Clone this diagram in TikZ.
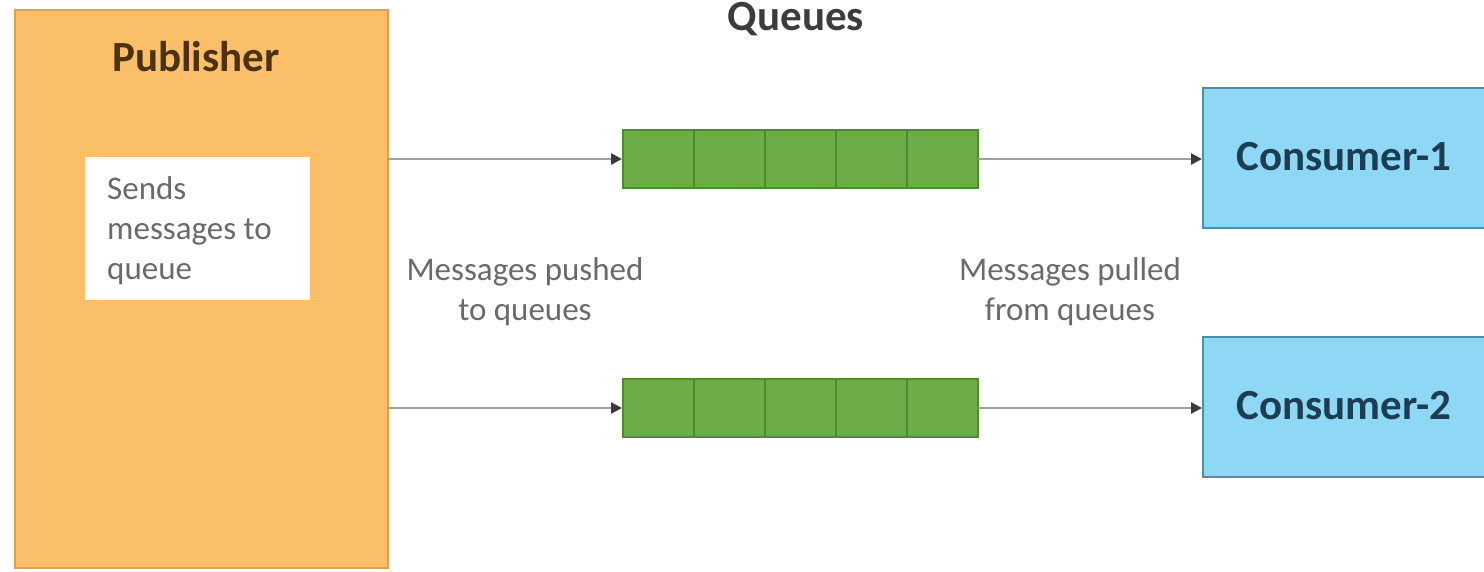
\documentclass[tikz,border=0pt]{standalone}
\usepackage{fontspec}
\setmainfont{Carlito}
\usetikzlibrary{arrows.meta}

\definecolor{pubfill}{HTML}{FBBF69}
\definecolor{pubdraw}{HTML}{DDA04E}
\definecolor{pubtext}{HTML}{4A3212}
\definecolor{qfill}{HTML}{6DAD47}
\definecolor{qdraw}{HTML}{4F8A32}
\definecolor{confill}{HTML}{8FD8F5}
\definecolor{condraw}{HTML}{4F8EAA}
\definecolor{context}{HTML}{1C3D52}
\definecolor{wire}{HTML}{A0A0A0}
\definecolor{tip}{HTML}{3A3A3A}
\definecolor{note}{HTML}{6A6A6A}
\definecolor{head}{HTML}{3C3C3C}

\tikzset{
  big/.style={font=\fontsize{43}{52}\selectfont\bfseries},
  small/.style={font=\fontsize{33}{40}\selectfont},
  publisherbox/.style={fill=pubfill, draw=pubdraw, line width=1.5pt},
  cell/.style={fill=qfill, draw=qdraw, line width=1.5pt, minimum width=71pt, minimum height=58pt, inner sep=0pt, outer sep=0pt},
  consumerline/.style={draw=condraw, line width=1.5pt},
  link/.style={draw=wire, line width=2.5pt, -{Triangle[length=11pt,width=11pt,color=tip]}, shorten >=1pt},
}

\begin{document}
\begin{tikzpicture}[x=1pt, y=-1pt]
  \useasboundingbox (0,0) rectangle (1484,572);
  \fill[white] (0,0) rectangle (1484,572);

  % publisher
  \draw[publisherbox] (15,10) rectangle (388,568);
  \coordinate (pubtop) at (388,159);
  \coordinate (pubbot) at (388,408);
  \node[big, text=pubtext] (pubtitle) at (196,57) {Publisher};
  \fill[white] (85,157) rectangle (310,300);
  \node[small, text=note, anchor=north west, align=left, inner sep=0pt] (pubnote) at (107,176)
    {Sends\\messages to\\queue};

  % queues
  \node[big, text=head] (qtitle) at (796,19) {Queues};
  \foreach \i in {0,...,4} {
    \node[cell] (qa\i) at (658.5+71*\i,159) {};
    \node[cell] (qb\i) at (658.5+71*\i,408) {};
  }

  % consumers (cut by the right edge of the page)
  \fill[confill] (1204,89) rectangle (1484,227);
  \draw[consumerline] (1484,88) -- (1203,88) -- (1203,228) -- (1484,228);
  \coordinate (cona) at (1203,159);
  \node[big, text=context] (conatext) at (1344,157) {Consumer-1};

  \fill[confill] (1204,338) rectangle (1484,476);
  \draw[consumerline] (1484,337) -- (1203,337) -- (1203,477) -- (1484,477);
  \coordinate (conb) at (1203,408);
  \node[big, text=context] (conbtext) at (1344,406) {Consumer-2};

  % connectors
  \draw[link] (pubtop) -- (qa0.west);
  \draw[link] (pubbot) -- (qb0.west);
  \draw[link] (qa4.east) -- (cona);
  \draw[link] (qb4.east) -- (conb);

  % labels
  \node[small, text=note, align=center] (pushlbl) at (525,292) {Messages pushed\\to queues};
  \node[small, text=note, align=center] (pulllbl) at (1070,292) {Messages pulled\\from queues};
\end{tikzpicture}
\end{document}
